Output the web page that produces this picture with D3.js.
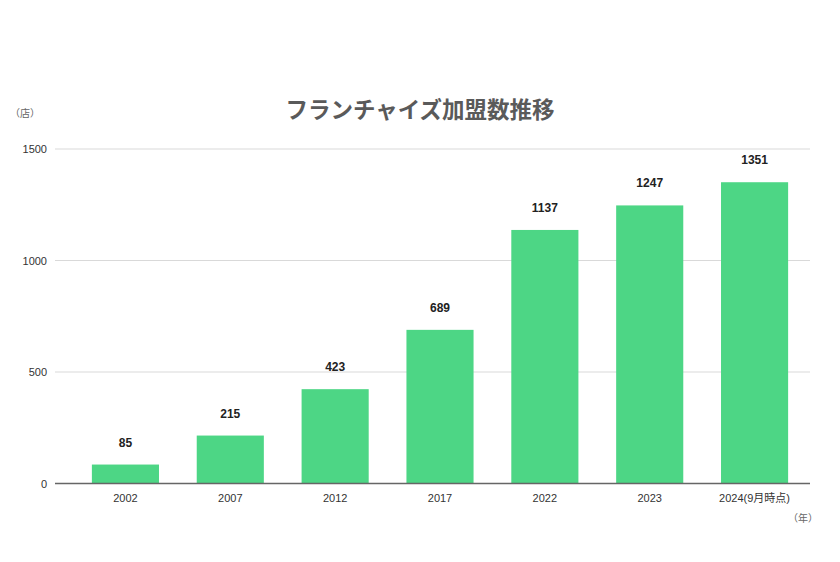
<!DOCTYPE html>
<html><head><meta charset="utf-8">
<script src="https://cdn.jsdelivr.net/npm/d3@7"></script>
<style>body{margin:0;background:#fff;}svg{display:block;font-family:"Noto Sans CJK JP","Noto Sans",sans-serif;}</style>
</head><body>
<svg id="c" width="840" height="562"></svg>
<script>
const categories = ["2002","2007","2012","2017","2022","2023","2024(9月時点)"];
const values = [85,215,423,689,1137,1247,1351];
const yTicks = [0,500,1000,1500];
const title = "フランチャイズ加盟数推移";
const yUnit = "（店）";
const xUnit = "（年）";

const svg = d3.select("#c");
const L=55, R=810, T=149, B=483.5;
const x = d3.scaleBand().domain(categories).range([73,807]).paddingInner(0.36).paddingOuter(0.18);
const y = d3.scaleLinear().domain([0,1500]).range([B,T]);

svg.append("text").attr("x",420).attr("y",118).attr("text-anchor","middle")
  .attr("font-size",22.5).attr("font-weight","bold").attr("fill","#5a5a5a").text(title);
svg.append("text").attr("x",10).attr("y",117).attr("font-size",10).attr("fill","#666").text(yUnit);
svg.append("text").attr("x",818).attr("y",522).attr("text-anchor","end").attr("font-size",10).attr("fill","#666").text(xUnit);

// gridlines
svg.append("g").selectAll("line").data(yTicks.filter(d=>d>0)).join("line")
  .attr("x1",L).attr("x2",R).attr("y1",d=>y(d)).attr("y2",d=>y(d))
  .attr("stroke","#d9d9d9").attr("stroke-width",1);

// y axis labels
const ya = svg.append("g").attr("transform",`translate(${L-8},0)`)
  .call(d3.axisLeft(y).tickValues(yTicks).tickFormat(d3.format("d")).tickSize(0).tickPadding(0));
ya.select(".domain").remove();
ya.selectAll("text").attr("font-size",11).attr("fill","#333").attr("font-family","'Liberation Sans',Arial,sans-serif");

// bars
svg.append("g").selectAll("rect").data(values).join("rect")
  .attr("x",(d,i)=>x(categories[i])).attr("width",x.bandwidth())
  .attr("y",d=>y(d)).attr("height",d=>B-y(d)).attr("fill","#4dd685");

// value labels
svg.append("g").selectAll("text").data(values).join("text")
  .attr("x",(d,i)=>x(categories[i])+x.bandwidth()/2).attr("y",d=>y(d)-18)
  .attr("text-anchor","middle").attr("font-size",12).attr("font-weight","bold").attr("fill","#222")
  .attr("font-family","'Liberation Sans',Arial,sans-serif").text(d=>d);

// x axis
const xa = svg.append("g").attr("transform",`translate(0,${B})`)
  .call(d3.axisBottom(x).tickSize(0).tickPadding(11));
xa.select(".domain").attr("d",`M${L},0H${R}`).attr("stroke","#666").attr("stroke-width",1.3);
xa.selectAll("text").attr("font-size",11).attr("fill","#333").attr("font-family","'Liberation Sans','Noto Sans CJK JP',sans-serif");
</script>
</body></html>
